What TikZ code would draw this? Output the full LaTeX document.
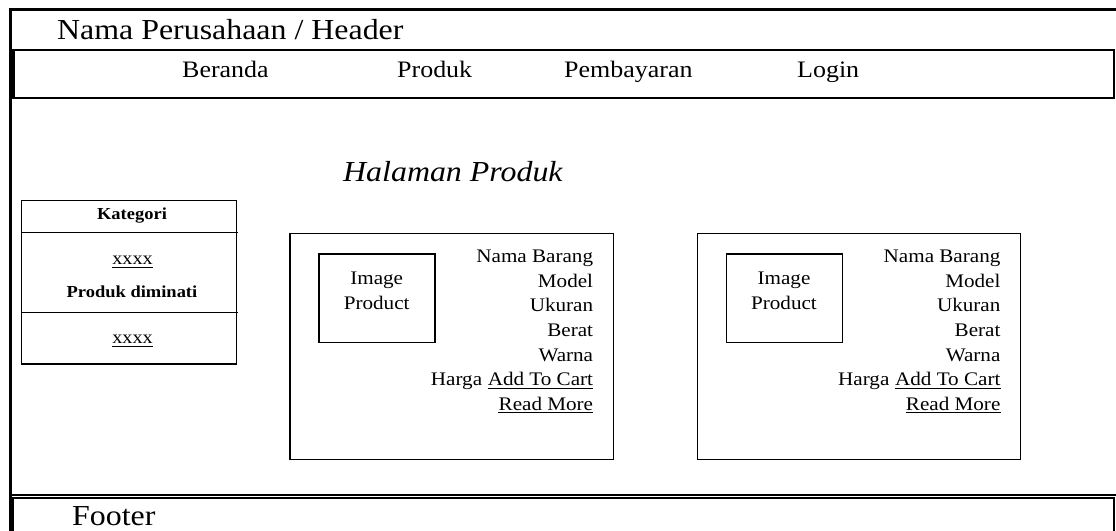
\documentclass[tikz,border=0pt]{standalone}
\usepackage{fontspec}
\setmainfont{Liberation Serif}[FakeStretch=1.1]
\usetikzlibrary{positioning}

\tikzset{
    frame/.style={line width=2.8pt},
    panel/.style={line width=1.4pt},
    uline/.style={line width=0.9pt},
    headtext/.style={inner sep=0pt, anchor=base west, font=\fontsize{29}{34}\selectfont},
    navtext/.style={inner sep=0pt, anchor=base west, font=\fontsize{23.6}{28}\selectfont},
    cattext/.style={inner sep=0pt, anchor=base, font=\fontsize{16.8}{20}\selectfont\bfseries},
    linktext/.style={inner sep=0pt, anchor=base, font=\fontsize{18.4}{22}\selectfont},
    cardtext/.style={inner sep=0pt, anchor=base east, font=\fontsize{19.2}{23}\selectfont},
    imgtext/.style={inner sep=0pt, anchor=base, font=\fontsize{19.2}{23}\selectfont}
}

\begin{document}
\begin{tikzpicture}[x=1pt,y=-1pt]
        \clip (0,0) rectangle (1116,530);
        \fill[white] (0,0) rectangle (1116,530);

        % page frame, menu bar, footer
        \draw[frame] (1130,9.5) -- (10.5,9.5) -- (10.5,540);
        \draw[frame] (10.5,495) -- (1130,495);
        \draw[frame] (13.5,50) rectangle (1114,98);
        \draw[panel] (13,498) rectangle (1114,545);

        \node[headtext] (header) at (57,39) {Nama Perusahaan / Header};
        \node[navtext] (beranda) at (182,77) {Beranda};
        \node[navtext] (produk) at (397,77) {Produk};
        \node[navtext] (bayar) at (564,77) {Pembayaran};
        \node[navtext] (login) at (797,77) {Login};
        \node[headtext] (footer) at (72,525.5) {Footer};

        \node[headtext, font=\fontsize{29}{34}\selectfont\itshape] (judul) at (343,181) {Halaman Produk};

        % kategori
        \draw[panel] (21.7,200.7) rectangle (236.7,364);
        \draw[panel] (21.7,232.3) -- (237.7,232.3);
        \draw[panel] (21.7,312.7) -- (237.7,312.7);
        \node[cattext] (kategori) at (132,219) {Kategori};
        \node[linktext] (xxxa) at (132.5,264) {xxxx};
        \node[cattext] (diminati) at (132,297.7) {Produk diminati};
        \node[linktext] (xxxb) at (132.5,343) {xxxx};
        \draw[uline] ([yshift=-3pt]xxxa.base west) -- ([yshift=-3pt]xxxa.base east);
        \draw[uline] ([yshift=-3pt]xxxb.base west) -- ([yshift=-3pt]xxxb.base east);

        % kartu produk
        \foreach \c/\dx in {1/0, 2/407.3} {
            \begin{scope}[xshift=\dx]
                \draw[panel] (290,233.3) rectangle (613.3,459.3);
                \draw[panel] (319,254) rectangle (435,342.7);
                \node[imgtext] (image\c) at (376.7,284) {Image};
                \node[imgtext] (product\c) at (376.7,309.3) {Product};
                \node[cardtext] (nama\c) at (593.3,262.7) {Nama Barang};
                \node[cardtext] (model\c) at (593.3,287.3) {Model};
                \node[cardtext] (ukuran\c) at (593.3,311.9) {Ukuran};
                \node[cardtext] (berat\c) at (593.3,336.5) {Berat};
                \node[cardtext] (warna\c) at (593.3,361.1) {Warna};
                \node[cardtext] (cart\c) at (593.3,385.7) {Add To Cart};
                \node[cardtext, xshift=-5.3pt] (harga\c) at (cart\c.base west) {Harga};
                \node[cardtext] (more\c) at (593.3,410.3) {Read More};
                \draw[uline] ([yshift=-2.6pt]cart\c.base west) -- ([yshift=-2.6pt]cart\c.base east);
                \draw[uline] ([yshift=-2.6pt]more\c.base west) -- ([yshift=-2.6pt]more\c.base east);
            \end{scope}
        }
\end{tikzpicture}
\end{document}
